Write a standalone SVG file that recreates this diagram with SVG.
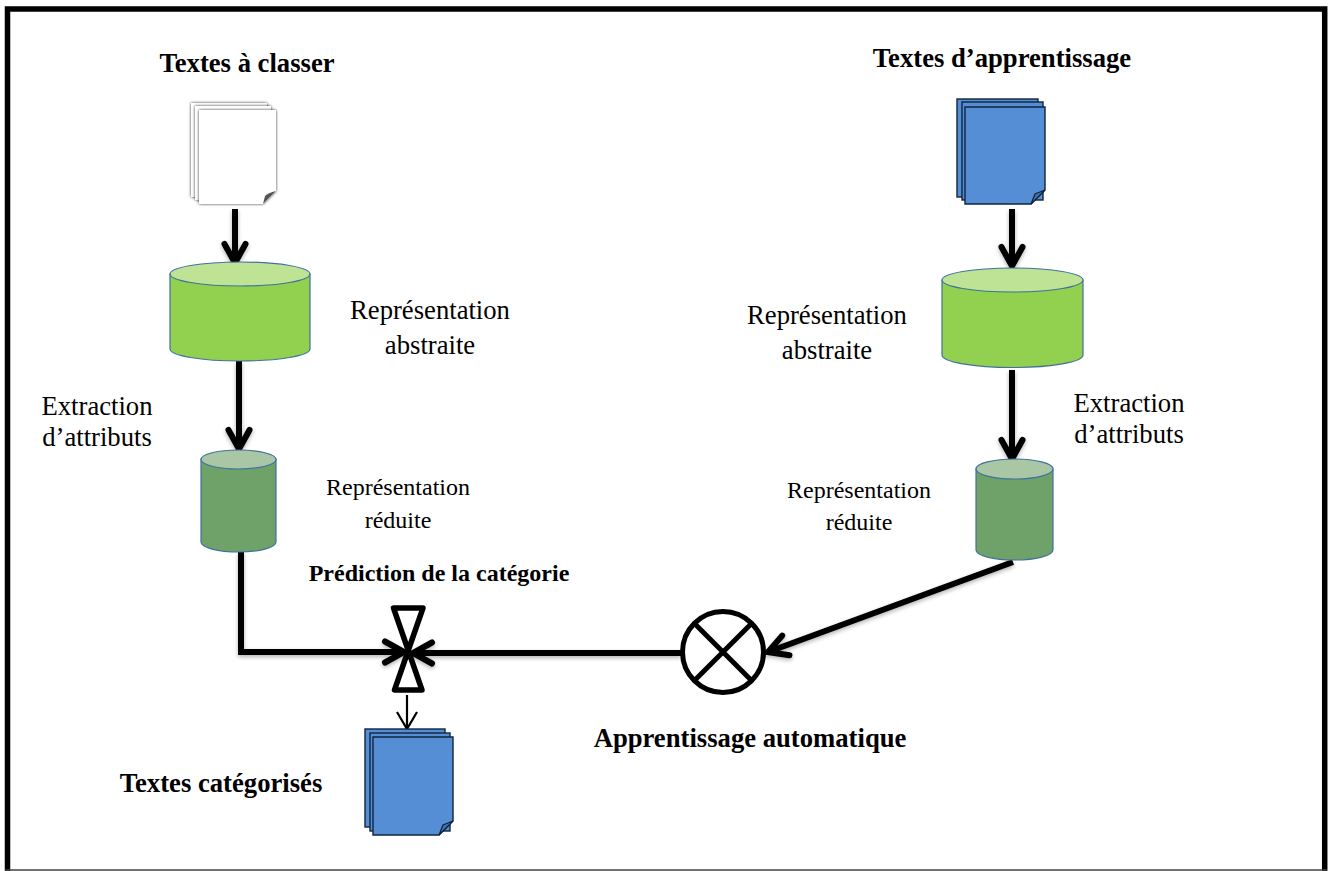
<svg xmlns="http://www.w3.org/2000/svg" width="1328" height="871" viewBox="0 0 1328 871">
<style>
text{font-family:"Liberation Serif","Times New Roman",serif;fill:#000;text-anchor:middle}
.b{font-weight:bold}
.l{font-size:26.670px}.s{font-size:24px}
.cb{fill:#92d050;stroke:#41719c;stroke-width:1.2}.ct{fill:#bee395;stroke:#41719c;stroke-width:1.2}
.db{fill:#6fa268;stroke:#41719c;stroke-width:1.2}.dt{fill:#a9c7a5;stroke:#41719c;stroke-width:1.2}
.doc{fill:#558ed5;stroke:#10243e;stroke-width:1.4}
.fold{fill:#4473ab;stroke:#10243e;stroke-width:1.2}
.wdoc{fill:#fff;stroke:none;filter:url(#ws)}
.c{fill:none;stroke:#000;stroke-width:6}
.sym{fill:none;stroke:#000;stroke-width:5.500;stroke-linejoin:round}
</style>
<defs>
<marker id="a" markerUnits="userSpaceOnUse" markerWidth="30" markerHeight="32" refX="26" refY="15" orient="auto" overflow="visible"><path d="M7,4.500 L26,15 L7,25.500" fill="none" stroke="#000" stroke-width="6" stroke-linecap="round" stroke-linejoin="miter"/></marker>
<marker id="t" markerUnits="userSpaceOnUse" markerWidth="24" markerHeight="26" refX="20" refY="12" orient="auto" overflow="visible"><path d="M3,2 L20,12 L3,22" fill="none" stroke="#000" stroke-width="2.200"/></marker>
<filter id="sh" x="-20%" y="-20%" width="140%" height="140%"><feGaussianBlur in="SourceAlpha" stdDeviation="2.200"/><feOffset dx="0" dy="2"/><feComponentTransfer><feFuncA type="linear" slope=".3"/></feComponentTransfer><feMerge><feMergeNode/><feMergeNode in="SourceGraphic"/></feMerge></filter>
<filter id="ws" x="-15%" y="-15%" width="130%" height="130%"><feGaussianBlur in="SourceAlpha" stdDeviation="1.800"/><feComponentTransfer><feFuncA type="linear" slope=".8"/></feComponentTransfer><feMerge><feMergeNode/><feMergeNode in="SourceGraphic"/></feMerge></filter>
</defs>
<rect width="1328" height="871" fill="#fff"/>
<g id="frame"><path d="M7.500,871 V9 H1324.700 V871" fill="none" stroke="#000" stroke-width="5.500"/><path d="M5,870 H1327" stroke="#444" stroke-width="1.500"/></g>

<g id="connectors">
<g filter="url(#sh)">
<path class="c" d="M235,209 V263" marker-end="url(#a)"/>
<path class="c" d="M239,361 V449" marker-end="url(#a)"/>
<path class="c" d="M1012,209 V266" marker-end="url(#a)"/>
<path class="c" d="M1012,370 V459" marker-end="url(#a)"/>
<path class="c" d="M241,552 V652 H404" marker-end="url(#a)"/>
<path class="c" d="M681,653 H413" marker-end="url(#a)"/>
<path class="c" d="M1013,562 L768,652" marker-end="url(#a)"/>
</g>
<path d="M407,695 V729" fill="none" stroke="#000" stroke-width="2.200" marker-end="url(#t)"/>
</g>

<g id="doc-classer">
<path class="wdoc" d="M191,103 H267 V190 L255,197 H191 Z"/>
<path class="wdoc" d="M195,106 H271 V193 L259,200 H195 Z"/>
<path class="wdoc" d="M199,110 H276 V191 L263,204 H199 Z"/>
<path d="M263,204 L265,196 Q268,193 276,191 Z" fill="#555"/></g>
<text class="b l" x="247" y="72">Textes à classer</text>

<g id="doc-apprentissage">
<rect class="doc" x="957" y="99" width="81" height="98"/><rect class="doc" x="962" y="102" width="81" height="98"/>
<path class="doc" d="M965,107 H1045 V190 L1031,204 H965 Z"/><path class="fold" d="M1031,204 L1035,194 L1045,190 Z"/></g>
<text class="b l" x="1002" y="67">Textes d’apprentissage</text>

<g id="cyl-1"><path class="cb" d="M170,274 V349 A70,12 0 0 0 310,349 V274 Z"/><ellipse class="ct" cx="240" cy="274" rx="70" ry="12"/></g>
<text class="l" x="430" y="319">Représentation</text><text class="l" x="430" y="354">abstraite</text>

<g id="cyl-2"><path class="db" d="M201,459 V542 A37.500,10 0 0 0 276,542 V459 Z"/><ellipse class="dt" cx="238.500" cy="459.500" rx="37.500" ry="9.500"/></g>
<text class="l" x="97" y="415">Extraction</text><text class="l" x="97" y="446">d’attributs</text>
<text class="s" x="398" y="495">Représentation</text><text class="s" x="398" y="528">réduite</text>

<g id="cyl-3"><path class="cb" d="M942,280 V355 A70.500,12.500 0 0 0 1083,355 V280 Z"/><ellipse class="ct" cx="1012.500" cy="280" rx="70.500" ry="12"/></g>
<text class="l" x="827" y="324">Représentation</text><text class="l" x="827" y="359">abstraite</text>

<g id="cyl-4"><path class="db" d="M976,469 V550 A38.500,10 0 0 0 1053,550 V469 Z"/><ellipse class="dt" cx="1014.500" cy="469" rx="38.500" ry="10"/></g>
<text class="l" x="1129" y="412">Extraction</text><text class="l" x="1129" y="443">d’attributs</text>
<text class="s" x="859" y="498">Représentation</text><text class="s" x="859" y="530">réduite</text>

<g id="valve"><path class="sym" d="M393.500,608 H423 L394.500,690 H422 L393.500,608 Z"/></g>
<text class="b s" x="439" y="581">Prédiction de la catégorie</text>

<g id="doc-categorises">
<rect class="doc" x="365" y="729" width="80" height="98"/><rect class="doc" x="370" y="733" width="80" height="98"/>
<path class="doc" d="M373,737 H453 V821 L439,835 H373 Z"/><path class="fold" d="M439,835 L443,825 L453,821 Z"/></g>
<text class="b l" x="221" y="792">Textes catégorisés</text>

<g id="ml"><circle cx="723" cy="652" r="40.500" fill="#fff" stroke="#000" stroke-width="5"/><path d="M694.500,623.500 L751.500,680.500 M751.500,623.500 L694.500,680.500" stroke="#000" stroke-width="5"/></g>
<text class="b l" x="750" y="747">Apprentissage automatique</text>
</svg>
